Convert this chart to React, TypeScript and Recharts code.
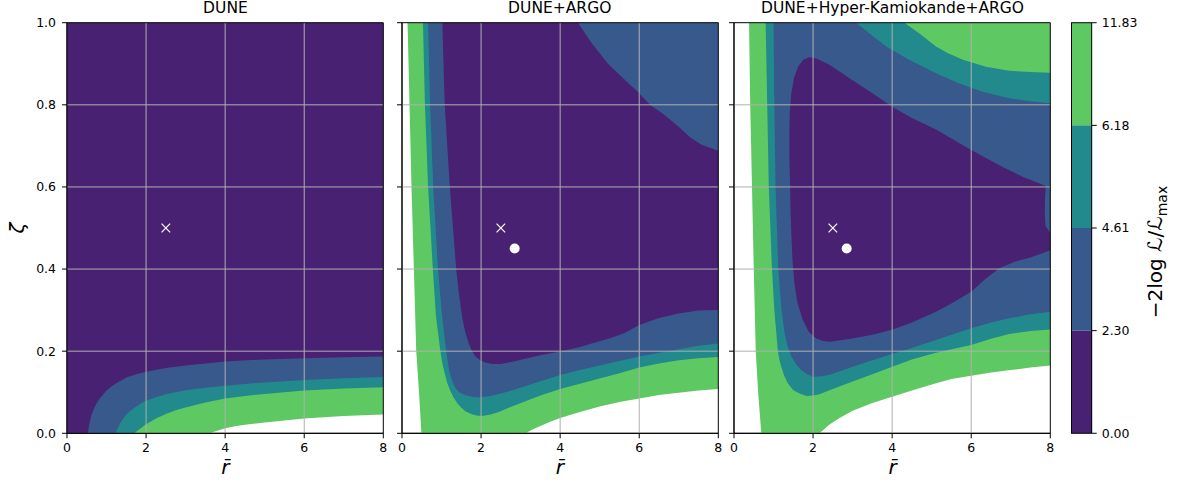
import { ScatterChart, Scatter, XAxis, YAxis, ReferenceLine, BarChart, Bar } from "recharts";

type Pt = [number, number];

const LEVELS = ["0.00", "2.30", "4.61", "6.18", "11.83"];
// purple, blue, teal, green (lowest -> highest level band)
const LEVEL_COLORS = ["#482173", "#38598c", "#228a8d", "#5ec962"];
const X_TICKS = [0, 2, 4, 6, 8];
const Y_TICKS = [0, 0.2, 0.4, 0.6, 0.8, 1.0];
const GRID_X = [2, 4, 6];
const GRID_Y = [0.2, 0.4, 0.6, 0.8];

const TRUE_POINT: Pt = [2.5, 0.5];
const BEST_FIT: Pt = [2.85, 0.45];

// region below each level (painted green -> teal -> blue -> purple)
const duneGreen: Pt[] = [[0, 0], [3.61, 0], [3.7, 0.003], [3.8, 0.006], [4, 0.012], [4.25, 0.017], [4.5, 0.021], [5, 0.026], [5.5, 0.031], [6, 0.036], [7, 0.042], [8, 0.046], [8, 1], [0, 1]];
const duneTeal: Pt[] = [[0, 0], [1.71, 0], [1.78, 0.006], [1.85, 0.011], [2, 0.022], [2.25, 0.036], [2.5, 0.047], [2.75, 0.056], [3, 0.063], [3.5, 0.075], [4, 0.085], [4.5, 0.091], [5, 0.096], [6, 0.104], [7, 0.109], [8, 0.112], [8, 1], [0, 1]];
const duneBlue: Pt[] = [[0, 0], [1.23, 0], [1.28, 0.012], [1.35, 0.025], [1.42, 0.036], [1.5, 0.045], [1.62, 0.056], [1.75, 0.065], [1.88, 0.073], [2, 0.079], [2.25, 0.088], [2.5, 0.095], [3, 0.105], [3.5, 0.111], [4, 0.116], [5, 0.124], [6, 0.13], [7, 0.134], [8, 0.137], [8, 1], [0, 1]];
const dunePurple: Pt[] = [[0, 0], [0.53, 0], [0.55, 0.015], [0.58, 0.03], [0.62, 0.045], [0.68, 0.06], [0.75, 0.073], [0.83, 0.085], [0.92, 0.095], [1, 0.104], [1.12, 0.114], [1.25, 0.122], [1.5, 0.136], [1.75, 0.144], [2, 0.15], [2.5, 0.159], [3, 0.165], [4, 0.175], [5, 0.18], [6, 0.183], [7, 0.185], [8, 0.187], [8, 1], [0, 1]];

const argoGreen: Pt[] = [[0.14, 1], [0.19, 0.8], [0.24, 0.6], [0.3, 0.4], [0.36, 0.2], [0.43, 0.1], [0.49, 0], [3.13, 0], [3.3, 0.009], [3.5, 0.018], [3.75, 0.028], [4, 0.037], [4.5, 0.052], [5, 0.065], [5.5, 0.076], [6, 0.085], [6.5, 0.093], [7, 0.099], [7.5, 0.104], [8, 0.108], [8, 1]];
const argoTeal: Pt[] = [[0.53, 1], [0.58, 0.8], [0.66, 0.6], [0.78, 0.4], [0.86, 0.284], [0.97, 0.2], [1.02, 0.17], [1.08, 0.146], [1.14, 0.124], [1.21, 0.106], [1.3, 0.088], [1.4, 0.073], [1.5, 0.062], [1.61, 0.053], [1.75, 0.047], [1.91, 0.043], [2.07, 0.043], [2.24, 0.046], [2.45, 0.052], [2.67, 0.061], [3.09, 0.077], [3.5, 0.092], [4, 0.108], [4.95, 0.132], [5.5, 0.146], [6, 0.16], [6.5, 0.17], [7, 0.178], [7.5, 0.183], [8, 0.186], [8, 1]];
const argoBlue: Pt[] = [[0.66, 1], [0.71, 0.8], [0.79, 0.6], [0.91, 0.4], [1.0, 0.3], [1.06, 0.245], [1.12, 0.2], [1.16, 0.172], [1.2, 0.15], [1.25, 0.133], [1.3, 0.12], [1.37, 0.108], [1.45, 0.1], [1.57, 0.094], [1.7, 0.09], [1.85, 0.088], [2, 0.088], [2.25, 0.091], [2.5, 0.097], [2.8, 0.105], [3.09, 0.114], [3.5, 0.127], [4, 0.142], [4.5, 0.154], [5, 0.165], [6, 0.187], [7, 0.205], [7.5, 0.213], [8, 0.219], [8, 1]];
const argoPurple: Pt[] = [[1.02, 1], [1.08, 0.8], [1.21, 0.6], [1.37, 0.4], [1.44, 0.34], [1.52, 0.284], [1.6, 0.246], [1.69, 0.219], [1.77, 0.2], [1.86, 0.187], [1.98, 0.178], [2.12, 0.172], [2.3, 0.169], [2.5, 0.169], [2.8, 0.174], [3.09, 0.181], [3.5, 0.19], [4, 0.199], [4.5, 0.21], [4.95, 0.223], [5.3, 0.233], [5.63, 0.244], [6, 0.264], [6.48, 0.28], [6.99, 0.292], [7.49, 0.299], [8, 0.3], [8, 0.688], [7.58, 0.703], [7.3, 0.72], [6.99, 0.747], [6.6, 0.778], [6.27, 0.8], [6, 0.828], [5.6, 0.864], [5.21, 0.9], [4.8, 0.95], [4.45, 1]];

const hkGreen: Pt[] = [[0.38, 1], [0.41, 0.8], [0.455, 0.6], [0.5, 0.4], [0.55, 0.2], [0.61, 0.1], [0.69, 0], [2.16, 0], [2.28, 0.01], [2.4, 0.02], [2.67, 0.037], [3, 0.055], [3.5, 0.074], [4, 0.089], [4.5, 0.104], [5.11, 0.122], [5.5, 0.132], [6, 0.14], [6.5, 0.148], [7, 0.154], [7.5, 0.16], [8, 0.165], [8, 1]];
const hkTeal: Pt[] = [[0.8, 1], [0.84, 0.8], [0.88, 0.6], [0.96, 0.4], [1.02, 0.3], [1.11, 0.2], [1.15, 0.178], [1.2, 0.16], [1.27, 0.14], [1.36, 0.122], [1.5, 0.105], [1.66, 0.097], [1.83, 0.091], [2, 0.092], [2.16, 0.095], [2.5, 0.108], [3, 0.126], [3.5, 0.144], [4, 0.162], [4.5, 0.18], [5.11, 0.196], [5.5, 0.205], [6, 0.215], [6.5, 0.23], [6.96, 0.242], [7.5, 0.249], [8, 0.253], [8, 0.878], [7.5, 0.88], [6.96, 0.883], [6.37, 0.893], [5.79, 0.91], [5.4, 0.926], [5.11, 0.942], [4.69, 0.974], [4.31, 1]];
const hkBlue: Pt[] = [[1.0, 1], [1.02, 0.8], [1.05, 0.6], [1.12, 0.4], [1.2, 0.3], [1.28, 0.244], [1.36, 0.21], [1.45, 0.187], [1.57, 0.168], [1.7, 0.154], [1.85, 0.144], [2, 0.138], [2.25, 0.139], [2.5, 0.145], [3, 0.162], [3.5, 0.178], [4, 0.193], [4.5, 0.208], [5.11, 0.227], [5.5, 0.24], [6, 0.256], [6.5, 0.27], [6.96, 0.28], [7.5, 0.29], [8, 0.296], [8, 0.804], [7.5, 0.809], [6.96, 0.816], [6.29, 0.832], [5.7, 0.852], [5.11, 0.877], [4.44, 0.909], [3.85, 0.942], [3.43, 0.974], [3.09, 1]];
const hkPurple: Pt[] = [[1.75, 0.91], [1.91, 0.916], [2.1, 0.912], [2.42, 0.897], [3, 0.86], [3.5, 0.828], [4, 0.795], [4.5, 0.768], [5.11, 0.74], [5.5, 0.718], [6, 0.69], [6.71, 0.653], [7.3, 0.625], [7.89, 0.602], [7.87, 0.58], [7.86, 0.54], [7.88, 0.505], [8, 0.488], [8, 0.446], [7.5, 0.428], [7.1, 0.418], [6.71, 0.402], [6.35, 0.375], [6, 0.345], [5.5, 0.316], [5.11, 0.296], [4.5, 0.27], [4, 0.252], [3.5, 0.24], [3, 0.231], [2.42, 0.223], [2.25, 0.225], [2.08, 0.231], [1.9, 0.246], [1.74, 0.276], [1.6, 0.32], [1.53, 0.365], [1.48, 0.42], [1.45, 0.487], [1.43, 0.54], [1.42, 0.6], [1.4, 0.67], [1.4, 0.73], [1.41, 0.78], [1.45, 0.828], [1.52, 0.866], [1.62, 0.893]];

const FONT = "'DejaVu Sans', sans-serif";
const H = 484;
const PLOT_TOP = 22.7;
const PLOT_BOTTOM = 433.3;
const PLOT_W = 316.3;
const Y_AXIS_W = 40;
const M_LEFT = 20;
const M_RIGHT = 20;
const X_AXIS_H = 30;

const toXY = (pts: Pt[]) => pts.map(([x, y]) => ({ x, y }));
const noShape = () => <g />;

const tickStyle = { fill: "#000", fontSize: 12.5, fontFamily: FONT };

function Cross(props: any) {
  const { cx, cy } = props;
  const s = 4.3;
  return (
    <g stroke="#fff" strokeWidth={1.2}>
      <line x1={cx - s} y1={cy - s} x2={cx + s} y2={cy + s} />
      <line x1={cx - s} y1={cy + s} x2={cx + s} y2={cy - s} />
    </g>
  );
}

function Dot(props: any) {
  return <circle cx={props.cx} cy={props.cy} r={5} fill="#fff" />;
}

type PanelProps = {
  title: string;
  plotLeft: number;
  layers: Pt[][]; // green, teal, blue, purple
  showBest: boolean;
  yLabels: boolean;
};

function Panel({ title, plotLeft, layers, showBest, yLabels }: PanelProps) {
  const W = M_LEFT + Y_AXIS_W + PLOT_W + M_RIGHT;
  const left = plotLeft - M_LEFT - Y_AXIS_W;
  return (
    <>
      <div style={{ position: "absolute", left, top: 0, width: W, height: H }}>
        <ScatterChart
          width={W}
          height={H}
          margin={{ top: PLOT_TOP, right: M_RIGHT, bottom: H - PLOT_BOTTOM - X_AXIS_H, left: M_LEFT }}
        >
          <XAxis
            type="number"
            dataKey="x"
            domain={[0, 8]}
            ticks={X_TICKS}
            allowDataOverflow
            height={X_AXIS_H}
            tick={tickStyle}
            tickSize={5}
            tickMargin={5}
            axisLine={{ stroke: "#000" }}
            tickLine={{ stroke: "#000" }}
          />
          <YAxis
            type="number"
            dataKey="y"
            domain={[0, 1]}
            ticks={Y_TICKS}
            allowDataOverflow
            width={Y_AXIS_W}
            tick={tickStyle}
            tickSize={5}
            tickMargin={6}
            tickFormatter={(v: number) => (yLabels ? v.toFixed(1) : "")}
            axisLine={{ stroke: "#000" }}
            tickLine={{ stroke: "#000" }}
          />
          {layers.map((pts, i) => {
            const color = LEVEL_COLORS[3 - i];
            return (
              <Scatter
                key={i}
                data={toXY(pts)}
                fill={color}
                line={{ fill: color, stroke: "none" }}
                shape={noShape}
                isAnimationActive={false}
              />
            );
          })}
          {GRID_X.map((v) => (
            <ReferenceLine key={"gx" + v} x={v} stroke="#b0b0b0" strokeWidth={1} zIndex={700} />
          ))}
          {GRID_Y.map((v) => (
            <ReferenceLine key={"gy" + v} y={v} stroke="#b0b0b0" strokeWidth={1} zIndex={700} />
          ))}
          <ReferenceLine x={0} stroke="#000" strokeWidth={1} zIndex={700} />
          <ReferenceLine x={8} stroke="#000" strokeWidth={1} zIndex={700} />
          <ReferenceLine y={0} stroke="#000" strokeWidth={1} zIndex={700} />
          <ReferenceLine y={1} stroke="#000" strokeWidth={1} zIndex={700} />
          <Scatter data={toXY([TRUE_POINT])} shape={Cross} isAnimationActive={false} zIndex={800} />
          {showBest && <Scatter data={toXY([BEST_FIT])} shape={Dot} isAnimationActive={false} zIndex={800} />}
        </ScatterChart>
      </div>
      <div
        style={{
          position: "absolute",
          left: plotLeft,
          width: PLOT_W,
          top: 1,
          textAlign: "center",
          fontFamily: FONT,
          fontSize: 15.5,
          lineHeight: 1,
          color: "#000",
          whiteSpace: "nowrap",
        }}
      >
        {title}
      </div>
      <div
        style={{
          position: "absolute",
          left: plotLeft + PLOT_W / 2,
          top: 466.5,
          transform: "translate(-50%, -50%)",
          fontFamily: FONT,
          fontStyle: "italic",
          fontSize: 20,
          lineHeight: 1,
          color: "#000",
        }}
      >
        {"r\u0304"}
      </div>
    </>
  );
}

const CB_PLOT_LEFT = 1071;
const CB_PLOT_W = 20.7;
const cbRow: Record<string, string | number> = { name: "cb" };
LEVEL_COLORS.forEach((_, i) => {
  cbRow["b" + i] = 1;
});
const cbData = [cbRow];

function ColorBar() {
  const mLeft = 30;
  const yw = 60;
  const W = mLeft + CB_PLOT_W + yw;
  return (
    <div style={{ position: "absolute", left: CB_PLOT_LEFT - mLeft, top: 0, width: W, height: H }}>
      <BarChart
        width={W}
        height={H}
        data={cbData}
        barCategoryGap={0}
        margin={{ top: PLOT_TOP, right: 0, bottom: H - PLOT_BOTTOM, left: mLeft }}
      >
        <XAxis dataKey="name" hide />
        <YAxis
          orientation="right"
          type="number"
          domain={[0, 4]}
          ticks={[0, 1, 2, 3, 4]}
          width={yw}
          tick={tickStyle}
          tickSize={5}
          tickMargin={5}
          tickFormatter={(v: number) => LEVELS[v]}
          axisLine={{ stroke: "#000" }}
          tickLine={{ stroke: "#000" }}
        />
        {LEVEL_COLORS.map((c, i) => (
          <Bar key={i} dataKey={"b" + i} stackId="cb" fill={c} isAnimationActive={false} />
        ))}
        <ReferenceLine y={0} stroke="#000" strokeWidth={1} zIndex={700} />
        <ReferenceLine y={4} stroke="#000" strokeWidth={1} zIndex={700} />
      </BarChart>
      <div
        style={{
          position: "absolute",
          left: mLeft - 0.5,
          top: PLOT_TOP,
          width: 0,
          height: PLOT_BOTTOM - PLOT_TOP,
          borderLeft: "1px solid #000",
        }}
      />
    </div>
  );
}

export default function App() {
  return (
    <div style={{ position: "absolute", left: 0, top: 0, width: 1179, height: H, background: "#fff", overflow: "hidden" }}>
      <Panel title="DUNE" plotLeft={67.3} layers={[duneGreen, duneTeal, duneBlue, dunePurple]} showBest={false} yLabels />
      <Panel title="DUNE+ARGO" plotLeft={401.6} layers={[argoGreen, argoTeal, argoBlue, argoPurple]} showBest yLabels={false} />
      <Panel
        title="DUNE+Hyper-Kamiokande+ARGO"
        plotLeft={734.4}
        layers={[hkGreen, hkTeal, hkBlue, hkPurple]}
        showBest
        yLabels={false}
      />
      <ColorBar />
      <div
        style={{
          position: "absolute",
          left: 17,
          top: 228,
          transform: "translate(-50%, -50%) rotate(-90deg)",
          fontFamily: FONT,
          fontStyle: "italic",
          fontSize: 20,
          lineHeight: 1,
          color: "#000",
        }}
      >
        ζ
      </div>
      <div
        style={{
          position: "absolute",
          left: 1157,
          top: 252,
          transform: "translate(-50%, -50%) rotate(-90deg)",
          fontFamily: FONT,
          fontSize: 20,
          lineHeight: 1,
          color: "#000",
          whiteSpace: "nowrap",
        }}
      >
        −2log <span style={{ fontStyle: "italic" }}>ℒ</span>/<span style={{ fontStyle: "italic" }}>ℒ</span>
        <sub style={{ fontSize: 14 }}>max</sub>
      </div>
    </div>
  );
}
